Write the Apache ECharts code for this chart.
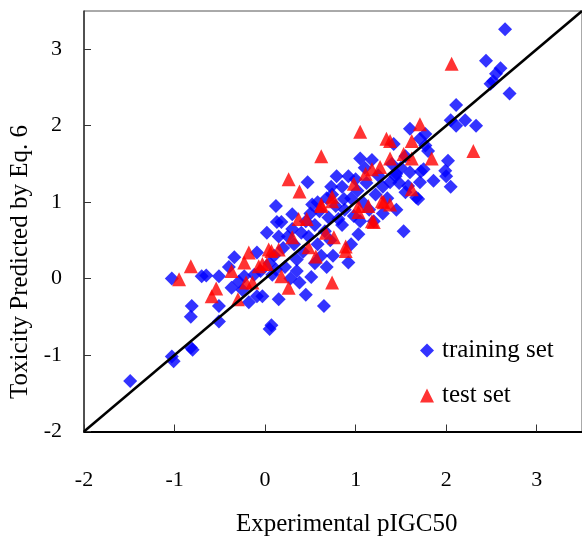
<!DOCTYPE html>
<html>
<head>
<meta charset="utf-8">
<script src="https://cdn.jsdelivr.net/npm/echarts@6/dist/echarts.min.js"></script>
<style>html,body{margin:0;padding:0;background:#fff}#c{width:582px;height:538px}</style>
</head>
<body>
<div id="c"></div>
<script>
const xTicks = [-2, -1, 0, 1, 2, 3];
const yTicks = [-2, -1, 0, 1, 2, 3];
const xTitle = 'Experimental pIGC50';
const yTitle = 'Toxicity Predicted by Eq. 6';
const legendNames = ['training set', 'test set'];
const diagonal = [[-2, -2], [3.5, 3.5]];

const trainingSet = [
[-1.49,-1.34],[-1.03,-1.02],[-1.01,-1.08],[-0.82,-0.90],[-0.80,-0.93],[-0.81,-0.36],[-0.82,-0.50],[-0.51,-0.56],[0.07,-0.61],[0.05,-0.66],
[-1.03,0.00],[-0.70,0.03],[-0.65,0.04],[-0.51,0.03],[-0.51,-0.36],[-0.37,-0.12],[-0.34,0.28],[-0.29,-0.04],[-0.23,0.03],[-0.09,0.34],
[-0.18,-0.31],[-0.09,-0.23],[0.02,0.60],[0.12,0.95],[0.13,0.74],[0.18,0.74],[0.30,0.84],[0.12,0.12],[0.92,0.21],[0.51,0.02],
[0.45,-0.21],[0.15,-0.27],[0.65,-0.36],[0.35,0.25],[-0.03,-0.23],[0.81,0.78],[1.03,0.58],[0.47,1.26],[0.79,1.34],[1.05,1.57],
[1.42,1.76],[0.92,1.34],[0.73,1.20],[0.74,1.10],[0.52,0.97],[0.87,1.04],[1.38,1.26],
[2.49,2.55],[2.70,2.42],[2.11,2.27],[2.05,2.07],[2.11,2.00],[2.21,2.07],[2.33,2.00],[1.60,1.96],[1.77,1.89],[1.71,1.83],
[1.77,1.74],[1.80,1.67],[1.45,1.37],[1.60,1.39],[1.75,1.43],[2.02,1.54],[1.99,1.41],[2.00,1.34],[1.86,1.28],[1.71,1.26],
[2.05,1.20],[1.58,1.21],[1.55,1.13],[1.69,1.04],[2.65,3.26],[2.44,2.85],[2.60,2.75],[2.55,2.68],[2.52,2.58],[1.53,0.62],
[1.67,1.06],[1.72,1.40],[1.20,0.75],[1.44,1.34],
[0.20,0.40],[0.25,0.55],[0.32,0.45],[0.40,0.60],[0.42,0.35],[0.48,0.55],[0.55,0.70],[0.58,0.45],[0.60,0.88],[0.66,0.62],
[0.70,0.80],[0.72,0.50],[0.78,0.95],[0.85,0.70],[0.88,0.90],[0.95,1.05],[0.98,0.82],[1.02,1.15],[1.08,1.00],[1.12,1.25],
[1.15,0.90],[1.22,1.10],[1.25,1.35],[1.30,1.20],[1.35,1.05],[1.40,1.50],[1.48,1.25],[1.50,1.45],[1.55,1.60],[0.05,0.20],
[0.08,0.05],[0.10,0.30],[-0.05,0.10],[-0.12,0.05],[0.22,0.15],[0.28,0.00],[0.35,0.10],[0.38,-0.05],[0.55,0.20],[0.62,0.30],
[0.68,0.15],[-0.25,-0.15],[-0.40,0.15],[0.15,0.55],[0.50,0.85],[0.45,0.75],[0.85,1.20],[1.00,1.30],[1.10,1.45],[0.95,0.45],
[1.05,0.75],[1.30,0.85],[1.45,0.90],[0.75,0.30],[0.30,0.65],[0.58,1.00],[0.68,1.05],[1.18,1.55]
];

const testSet = [
[-0.95,-0.01],[-0.82,0.16],[-0.59,-0.23],[-0.54,-0.13],[-0.37,0.10],[-0.30,-0.27],[-0.23,0.21],[-0.18,0.34],[-0.21,-0.05],[-0.14,-0.05],
[-0.07,0.16],[0.02,0.19],[0.07,0.36],[0.37,0.78],[0.46,0.78],[0.30,0.54],[0.62,0.95],[0.74,1.01],[0.04,0.38],[0.15,0.38],
[-0.03,0.19],[0.18,0.03],[0.26,-0.12],[0.48,0.41],[0.56,0.29],[0.67,0.60],[0.76,0.54],[0.89,0.42],[0.89,0.36],[1.03,0.87],
[1.18,0.75],[1.14,0.95],[1.31,1.00],[0.74,-0.05],[1.05,1.92],[0.62,1.60],[0.26,1.30],[0.38,1.14],[1.34,1.83],[1.38,1.57],
[1.27,1.46],[1.18,1.43],[1.11,1.37],[0.98,1.24],[0.74,1.07],[0.62,0.97],[1.29,1.01],[1.38,0.97],[1.03,0.95],[2.30,1.67],
[1.71,2.02],[1.62,1.80],[1.38,1.80],[1.53,1.63],[1.62,1.57],[1.84,1.57],[1.62,1.17],[1.20,0.74],[2.06,2.81]
];

const FONT = '"Liberation Serif", "Times New Roman", serif';
const chart = echarts.init(document.getElementById('c'), null, {renderer: 'canvas'});
chart.setOption({
  animation: false,
  backgroundColor: '#fff',
  grid: {left: 84, top: 11, width: 500, height: 420.5, show: true, borderColor: '#555', borderWidth: 1, backgroundColor: 'transparent'},
  xAxis: {
    type: 'value', min: -2, max: 3.5, interval: 1,
    axisLine: {onZero: false, lineStyle: {color: '#000', width: 2}},
    axisTick: {inside: true, length: 7, lineStyle: {color: '#333', width: 1}},
    axisLabel: {margin: 38, fontFamily: FONT, fontSize: 22, color: '#000', formatter: v => (xTicks.indexOf(v) >= 0 ? String(v) : ''), showMaxLabel: false},
    splitLine: {show: false}
  },
  yAxis: {
    type: 'value', min: -2, max: 3.5, interval: 1,
    axisLine: {onZero: false, lineStyle: {color: '#333', width: 1.5}},
    axisTick: {inside: true, length: 7, lineStyle: {color: '#333', width: 1}},
    axisLabel: {margin: 22, fontFamily: FONT, fontSize: 22, color: '#000', formatter: v => (yTicks.indexOf(v) >= 0 ? String(v) : ''), showMaxLabel: false},
    splitLine: {show: false}
  },
  legend: {
    orient: 'vertical', left: 415, top: 333, itemGap: 20, itemWidth: 14, itemHeight: 14,
    textStyle: {fontFamily: FONT, fontSize: 25, color: '#000', padding: [0, 0, 0, 3]},
    data: [{name: legendNames[0], icon: 'diamond'}, {name: legendNames[1], icon: 'triangle'}]
  },
  graphic: [
    {type: 'text', x: 236, y: 512, style: {text: xTitle, font: '25px ' + FONT, fill: '#000'}},
    {type: 'text', rotation: Math.PI / 2, x: 8, y: 262, style: {text: yTitle, font: '25px ' + FONT, fill: '#000', align: 'center', verticalAlign: 'top'}}
  ],
  series: [
    {name: legendNames[0], type: 'scatter', symbol: 'diamond', symbolSize: 14, itemStyle: {color: '#0000FF'}, data: trainingSet, z: 2},
    {name: legendNames[1], type: 'scatter', symbol: 'triangle', symbolSize: 14, itemStyle: {color: '#FF0000'}, data: testSet, z: 3},
    {type: 'line', data: diagonal, symbol: 'none', lineStyle: {color: '#000', width: 2.5}, z: 5, silent: true}
  ]
});
</script>
</body>
</html>
